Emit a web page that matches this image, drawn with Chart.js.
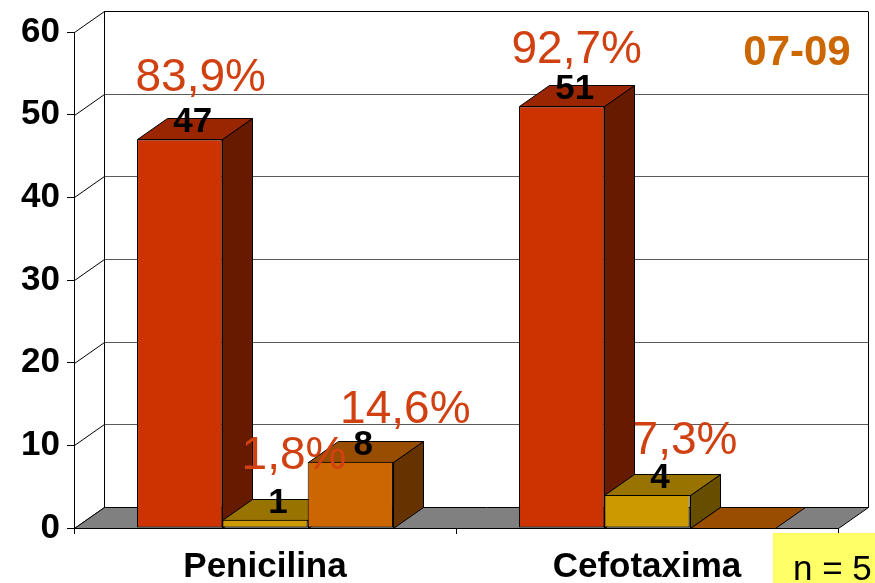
<!DOCTYPE html>
<html>
<head>
<meta charset="utf-8">
<script src="https://cdn.jsdelivr.net/npm/chart.js@4"></script>
<style>
  html, body { margin: 0; padding: 0; background: #fff; }
  #wrap { width: 875px; height: 583px; }
</style>
</head>
<body>
<div id="wrap"><canvas id="chart" width="875" height="583"></canvas></div>
<script>
const categories = ["Penicilina", "Cefotaxima"];
const redValues = [47, 51];
const yellowValues = [1, 4];
const orangeValues = [8, 0];
const redPct = ["83,9%", "92,7%"];
const yellowPct = ["1,8%", "7,3%"];
const orangePct = ["14,6%", ""];
const yTicks = [0, 10, 20, 30, 40, 50, 60];
const periodLabel = "07-09";
const sampleLabel = "n = 5";

const FONT = "'Liberation Sans', Arial, sans-serif";
// depth of the 3d box (walls and bars)
const DX = 30, DY = -21;

const faces = [
  { front: "#cc3300", top: "#992600", side: "#661a00" },
  { front: "#cc9900", top: "#997300", side: "#664d00" },
  { front: "#cc6600", top: "#994d00", side: "#663300" },
];
const pctLabels = [redPct, yellowPct, orangePct];
// where each percentage text sits, relative to its bar's top
const pctNudge = [
  [[21, -48], [15, -43]],
  [[29, -51], [38, -41]],
  [[55, -39], [0, 0]],
];

function poly(ctx, pts, fill, stroke) {
  ctx.beginPath();
  ctx.moveTo(pts[0][0], pts[0][1]);
  for (let i = 1; i < pts.length; i++) ctx.lineTo(pts[i][0], pts[i][1]);
  ctx.closePath();
  if (fill) { ctx.fillStyle = fill; ctx.fill(); }
  if (stroke) { ctx.strokeStyle = stroke; ctx.lineWidth = 1; ctx.stroke(); }
}

function line(ctx, x1, y1, x2, y2, color) {
  ctx.beginPath();
  ctx.moveTo(x1, y1);
  ctx.lineTo(x2, y2);
  ctx.strokeStyle = color;
  ctx.lineWidth = 1;
  ctx.stroke();
}

const box3d = {
  id: "box3d",
  beforeDatasetsDraw(chart) {
    const { ctx, chartArea: a, scales: { y } } = chart;
    const topV = yTicks[yTicks.length - 1];
    ctx.save();
    // back wall grid and the diagonals on the left wall
    yTicks.forEach((v) => {
      const py = Math.round(y.getPixelForValue(v)) + 0.5;
      line(ctx, a.left + 0.5, py, a.left + DX + 0.5, py + DY, "#000");
      if (v > 0) {
        line(ctx, a.left + DX, py + DY, a.right + DX, py + DY, v === topV ? "#000" : "#5a5a5a");
      }
    });
    const yt = Math.round(y.getPixelForValue(topV)) + 0.5 + DY;
    const yb = Math.round(a.bottom) + 0.5;
    line(ctx, a.left + DX + 0.5, yt, a.left + DX + 0.5, yb + DY, "#000");
    line(ctx, a.right + DX + 0.5, yt, a.right + DX + 0.5, yb + DY, "#000");

    // floor
    poly(ctx, [[a.left + 0.5, yb], [a.left + DX + 0.5, yb + DY], [a.right + DX + 0.5, yb + DY], [a.right + 0.5, yb]], "#808080", "#000");

    // sides and tops of bars, left to right so the next bar covers the previous side
    const bars = [];
    chart.data.datasets.forEach((ds, i) => {
      chart.getDatasetMeta(i).data.forEach((el) => bars.push({ el, i }));
    });
    bars.sort((p, q) => p.el.x - q.el.x);
    bars.forEach(({ el, i }) => {
      const { x, y: top, width } = el.getProps(["x", "y", "width"], true);
      const l = Math.round(x - width / 2) + 0.5, r = Math.round(x + width / 2) + 0.5;
      const t = Math.round(top) + 0.5;
      const c = faces[i];
      if (t < yb) {
        poly(ctx, [[r, t], [r + DX, t + DY], [r + DX, yb + DY], [r, yb]], c.side, "#000");
      }
      poly(ctx, [[l, t], [l + DX, t + DY], [r + DX, t + DY], [r, t]], c.top, "#000");
    });
    ctx.restore();
  },
  afterDatasetsDraw(chart) {
    const { ctx } = chart;
    ctx.save();
    ctx.textAlign = "center";
    ctx.textBaseline = "alphabetic";
    chart.data.datasets.forEach((ds, i) => {
      chart.getDatasetMeta(i).data.forEach((el, j) => {
        const v = ds.data[j];
        if (!v) return;
        const { x, y: top } = el.getProps(["x", "y"], true);
        ctx.fillStyle = "#000";
        ctx.font = "bold 35px " + FONT;
        ctx.fillText(String(v), x + 13, top - 7);
        const pct = pctLabels[i][j];
        if (pct) {
          ctx.fillStyle = "#d04010";
          ctx.font = "46px " + FONT;
          ctx.fillText(pct, x + pctNudge[i][j][0], top + pctNudge[i][j][1]);
        }
      });
    });
    ctx.restore();
  },
  afterDraw(chart) {
    const { ctx } = chart;
    ctx.save();
    ctx.textAlign = "center";
    ctx.fillStyle = "#cc6600";
    ctx.font = "bold 42px " + FONT;
    ctx.fillText(periodLabel, 797, 65);
    ctx.fillStyle = "#ffff66";
    ctx.fillRect(773, 533, 102, 50);
    ctx.fillStyle = "#000";
    ctx.textAlign = "left";
    ctx.font = "35px " + FONT;
    ctx.fillText(sampleLabel, 793, 580);
    ctx.restore();
  },
};

const ctx = document.getElementById("chart").getContext("2d");
new Chart(ctx, {
  type: "bar",
  data: {
    labels: categories,
    datasets: [redValues, yellowValues, orangeValues].map((vals, i) => ({
      data: vals,
      backgroundColor: faces[i].front,
      borderColor: "#000",
      borderWidth: (c) => (c.raw === 0 ? 0 : 1),
      borderSkipped: false,
      categoryPercentage: 0.67,
      barPercentage: 1,
    })),
  },
  options: {
    responsive: false,
    animation: false,
    layout: { padding: { top: 32, right: 37, left: 0, bottom: 0 } },
    plugins: { legend: { display: false }, tooltip: { enabled: false } },
    scales: {
      x: {
        afterFit: (s) => { s.height = 55; },
        grid: { drawOnChartArea: false, offset: true, tickLength: 6, color: "#000" },
        border: { color: "#000" },
        ticks: { color: "#000", font: { family: FONT, size: 35, weight: "bold" }, padding: 12, maxRotation: 0 },
      },
      y: {
        min: 0,
        max: 60,
        afterFit: (s) => { s.width = 74; },
        grid: { drawOnChartArea: false, tickLength: 7, color: "#000" },
        border: { color: "#000" },
        ticks: { stepSize: 10, color: "#000", font: { family: FONT, size: 35, weight: "bold" }, padding: 7 },
      },
    },
  },
  plugins: [box3d],
});
</script>
</body>
</html>
